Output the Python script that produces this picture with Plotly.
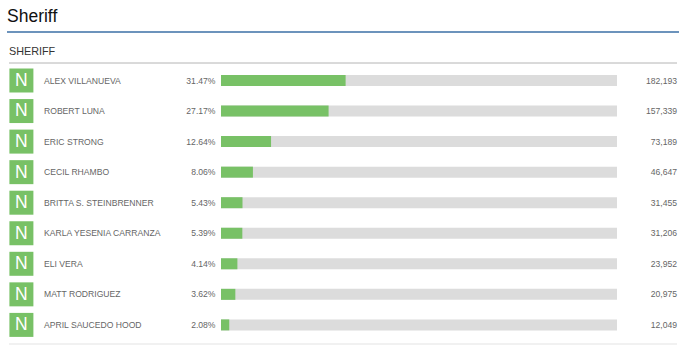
import plotly.graph_objects as go

candidates = ["ALEX VILLANUEVA", "ROBERT LUNA", "ERIC STRONG", "CECIL RHAMBO", "BRITTA S. STEINBRENNER",
              "KARLA YESENIA CARRANZA", "ELI VERA", "MATT RODRIGUEZ", "APRIL SAUCEDO HOOD"]
percent = [31.47, 27.17, 12.64, 8.06, 5.43, 5.39, 4.14, 3.62, 2.08]
votes = [182193, 157339, 73189, 46647, 31455, 31206, 23952, 20975, 12049]
party = ["N"] * 9

W, H = 700, 359
ROW0, STEP = 80.5, 30.55
GREEN, GRAY, TEXT = "#78c166", "#dcdcdc", "#666666"
FONT = "Liberation Sans"

fig = go.Figure()
fig.add_bar(y=candidates, x=[100] * len(candidates), orientation="h", marker_color=GRAY,
            marker_line_width=0, width=11 / STEP, hoverinfo="skip")
fig.add_bar(y=candidates, x=percent, orientation="h", marker_color=GREEN,
            marker_line_width=0, width=11 / STEP)

def col(x, texts, pos, size=8.6, color=TEXT):
    fig.add_scatter(x=[x] * len(candidates), y=candidates, xaxis="x2", yaxis="y2", mode="text", text=texts,
                    textposition=pos, textfont=dict(family=FONT, size=size, color=color), hoverinfo="skip")

fig.add_scatter(x=[21.4] * len(candidates), y=candidates, xaxis="x2", mode="markers",
                marker=dict(symbol="square", size=24, color=GREEN, line_width=0), hoverinfo="skip")
col(21.4, party, "middle center", size=17.5, color="white")
col(44, candidates, "middle right")
col(215.5, [f"{p:.2f}%" for p in percent], "middle left")
col(677, [f"{v:,}" for v in votes], "middle left")

def hline(y, x0, x1, color, w):
    fig.add_shape(type="line", xref="paper", yref="paper", x0=x0 / W, x1=x1 / W,
                  y0=1 - y / H, y1=1 - y / H, line=dict(color=color, width=w))

hline(32, 7, 679, "#3b6fa6", 1.5)
hline(63, 9, 677, "#b4b4b4", 1)
hline(344, 9, 677, "#ececec", 1.5)

def label(x, y, text, size, color):
    fig.add_annotation(xref="paper", yref="paper", x=x / W, y=1 - y / H, text=text, showarrow=False,
                       xanchor="left", yanchor="middle", xshift=0, borderpad=0,
                       font=dict(family=FONT, size=size, color=color))

label(6, 16, "Sheriff", 17.5, "#111111")
label(8, 51, "SHERIFF", 10.8, "#333333")

fig.update_layout(
    width=W, height=H, margin=dict(l=0, r=0, t=0, b=0), autosize=False,
    paper_bgcolor="white", plot_bgcolor="rgba(0,0,0,0)", barmode="overlay", showlegend=False,
    xaxis=dict(domain=[221 / W, 617 / W], range=[0, 100], visible=False),
    xaxis2=dict(domain=[0, 1], range=[0, W], visible=False, anchor="y"),
    yaxis=dict(domain=[0, 1], range=[(H - ROW0) / STEP, -ROW0 / STEP], type="category", visible=False,
               categoryorder="array", categoryarray=candidates),
    yaxis2=dict(domain=[0, 1], range=[(H - ROW0 - 1) / STEP, (-ROW0 - 1) / STEP], type="category", visible=False,
                categoryorder="array", categoryarray=candidates, anchor="x2"),
)
fig.write_html("out.html", config={"displayModeBar": False},
               post_script="document.body.style.margin='0';document.body.style.overflow='hidden';")
